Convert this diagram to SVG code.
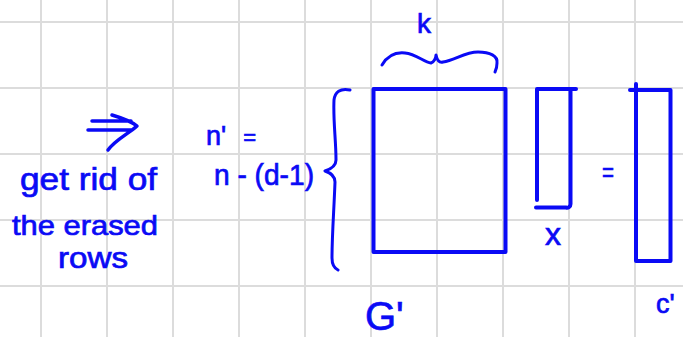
<svg xmlns="http://www.w3.org/2000/svg" width="683" height="337" viewBox="0 0 683 337">
<style>
.grid line{stroke:#dcdcdc;stroke-width:2}
.ink{fill:none;stroke:#0a0af5;stroke-linecap:round;stroke-linejoin:round}
.t{fill:#0a0af5;stroke:#0a0af5;stroke-width:0.7;font-family:"Liberation Sans",Arial,sans-serif}
</style>
<rect width="683" height="337" fill="#ffffff"/>
<g class="grid" id="grid">
<line x1="41" y1="0" x2="41" y2="337"/><line x1="107" y1="0" x2="107" y2="337"/><line x1="173" y1="0" x2="173" y2="337"/><line x1="239" y1="0" x2="239" y2="337"/><line x1="305" y1="0" x2="305" y2="337"/><line x1="371" y1="0" x2="371" y2="337"/><line x1="437" y1="0" x2="437" y2="337"/><line x1="503" y1="0" x2="503" y2="337"/><line x1="569" y1="0" x2="569" y2="337"/><line x1="635" y1="0" x2="635" y2="337"/>
<line x1="0" y1="22" x2="683" y2="22"/><line x1="0" y1="88" x2="683" y2="88"/><line x1="0" y1="154" x2="683" y2="154"/><line x1="0" y1="220" x2="683" y2="220"/><line x1="0" y1="286" x2="683" y2="286"/>
</g>
<g id="connectors">
<path class="ink" stroke-width="3.5" d="M92,121 L131,121 M88,130 L131,130 M112,115 C122,118 132,122 137,126 C128,134 115,140 108,150"/>
</g>
<g id="note">
<text class="t" x="20" y="190" font-size="31" textLength="137" lengthAdjust="spacingAndGlyphs">get rid of</text>
<text class="t" x="12" y="235" font-size="28" textLength="146" lengthAdjust="spacingAndGlyphs">the erased</text>
<text class="t" x="58" y="268" font-size="29" textLength="70" lengthAdjust="spacingAndGlyphs">rows</text>
</g>
<g id="rows-label">
<text class="t" x="206" y="145" font-size="27">n'<tspan font-size="22" dx="17">=</tspan></text>
<text class="t" x="214" y="185" font-size="29" textLength="100" lengthAdjust="spacingAndGlyphs">n - (d-1)</text>
<path class="ink" stroke-width="3" d="M350,90 C340,88 335,92 334,100 C333,120 336,140 336,160 C336,166 331,169 325,171 C331,173 335,176 335,182 C334,210 332,235 332,258 C332,264 334,268 338,270"/>
</g>
<g id="G-matrix">
<rect class="ink" stroke-width="4" x="373.5" y="89" width="132" height="163"/>
<path class="ink" stroke-width="3" d="M382,65 C388,55 396,52 405,53 C416,54 424,62 431,63 C434,62 436,58 436,55 C437,60 439,63 443,62 C455,60 465,52 478,52 C490,52 498,56 497,63 C497,67 496,70 495,72"/>
<text class="t" x="417" y="33" font-size="28">k</text>
<text class="t" x="365" y="330" font-size="40">G'</text>
</g>
<g id="x-vector">
<path class="ink" stroke-width="4" d="M537,200 L537,89 L576,89 M570.5,89 L570.5,204 C570.5,207 568,208 566,207.5 L536,207.5"/>
<text class="t" x="553" y="245" font-size="32" text-anchor="middle">x</text>
</g>
<g id="equals">
<text class="t" x="608" y="182" font-size="28" text-anchor="middle" textLength="12" lengthAdjust="spacingAndGlyphs">=</text>
</g>
<g id="c-vector">
<path class="ink" stroke-width="4" d="M630,90 L670.5,90 L670.5,261 L636,261 L636,84"/>
<text class="t" x="656" y="313" font-size="27">c'</text>
</g>
</svg>
